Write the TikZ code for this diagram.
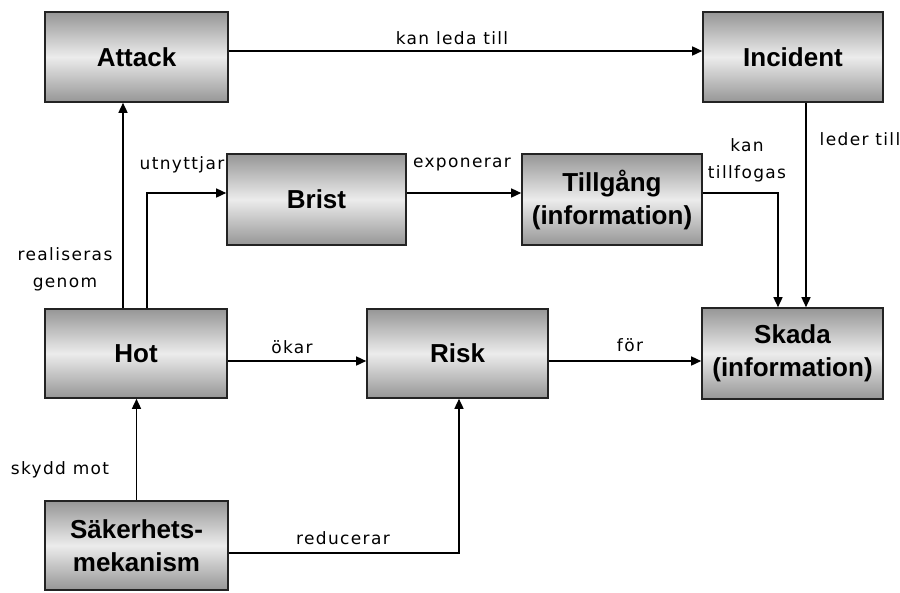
\documentclass[tikz,border=0pt]{standalone}
\usepackage{fontspec}
\setmainfont{Liberation Sans}
\newfontfamily\lblfont[LetterSpace=8]{DejaVu Sans}
\usetikzlibrary{arrows.meta,calc}
\definecolor{boxedge}{RGB}{35,35,35}
\definecolor{boxend}{RGB}{150,150,150}
\definecolor{boxmid}{RGB}{236,236,236}
\begin{document}
\begin{tikzpicture}[x=1pt,y=-1pt,
  box/.style={draw=boxedge, line width=1.6pt, top color=boxend, bottom color=boxend, middle color=boxmid,
    font=\fontsize{26}{33}\selectfont\bfseries, align=center, inner sep=0pt},
  arr/.style={draw=black, line width=1.5pt, -{Triangle[length=10pt,width=9pt]}},
  lbl/.style={font=\lblfont\fontsize{17}{27}\selectfont, inner sep=0pt, align=center}]
\fill[white] (0,0) rectangle (900,592);
\useasboundingbox (0,0) rectangle (900,592);

\node[box, minimum width=183pt, minimum height=90pt] (attack) at (136.5,57) {Attack};
\node[box, minimum width=180pt, minimum height=90pt] (incident) at (793,57) {Incident};
\node[box, minimum width=179pt, minimum height=91pt] (brist) at (316.5,199.5) {Brist};
\node[box, minimum width=180pt, minimum height=91pt] (tillgang) at (612,199.5) {Tillgång\\(information)};
\node[box, minimum width=182pt, minimum height=89pt] (hot) at (136,353.5) {Hot};
\node[box, minimum width=181pt, minimum height=89pt] (risk) at (457.5,353.5) {Risk};
\node[box, minimum width=181pt, minimum height=91pt] (skada) at (792.5,353.5) {Skada\\(information)};
\node[box, minimum width=183pt, minimum height=89pt] (sak) at (136.5,545.5) {Säkerhets-\\mekanism};

\draw[arr] ([yshift=6pt]attack.east) -- ([yshift=6pt]incident.west);
\draw[arr] ([xshift=13pt]incident.south) -- ([xshift=13pt]incident.south |- skada.north);
\draw[arr] ([yshift=6.5pt]tillgang.east) -| ([xshift=-14.5pt]skada.north);
\draw[arr] ([yshift=6.5pt]brist.east) -- ([yshift=6.5pt]tillgang.west);
\draw[arr] ([xshift=11pt]hot.north) |- ([yshift=6.5pt]brist.west);
\draw[arr] ([xshift=-13pt]hot.north) -- ([xshift=-13pt]hot.north |- attack.south);
\draw[arr] ([yshift=-7.5pt]hot.east) -- ([yshift=-7.5pt]risk.west);
\draw[arr] ([yshift=-7.5pt]risk.east) -- ([yshift=-7.5pt]skada.west);
\draw[arr] (sak.north) -- (sak.north |- hot.south);
\draw[arr] ([yshift=-7.5pt]sak.east) -| ([xshift=1.5pt]risk.south);

\node[lbl] (l1) at (452,38) {kan leda till};
\node[lbl] (l2) at (860,139) {leder till};
\node[lbl] (l3) at (747,160) {kan\\tillfogas};
\node[lbl] (l4) at (462,165) {exponerar};
\node[lbl] (l5) at (182,165) {utnyttjar};
\node[lbl] (l6) at (65,269) {realiseras\\genom};
\node[lbl] (l7) at (292,347) {ökar};
\node[lbl] (l8) at (630,345) {för};
\node[lbl] (l9) at (60,470) {skydd mot};
\node[lbl] (l10) at (343,538) {reducerar};
\end{tikzpicture}
\end{document}
